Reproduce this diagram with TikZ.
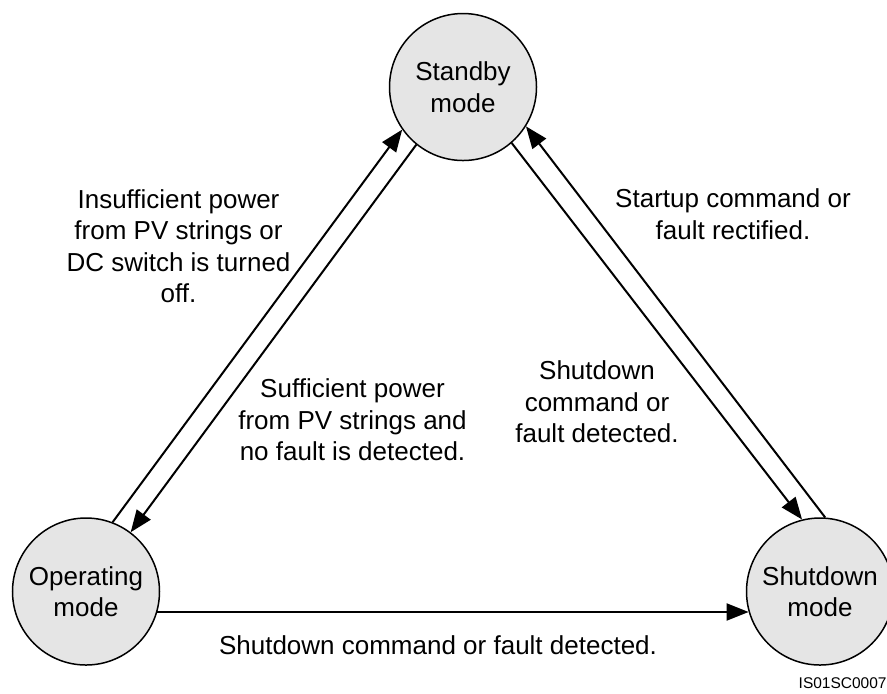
\documentclass[tikz,border=0pt]{standalone}
\usepackage{xcolor}
\usepackage{fontspec}
\setmainfont{Liberation Sans}
\usetikzlibrary{arrows.meta}

\definecolor{modegray}{RGB}{229,229,229}

\begin{document}
\begin{tikzpicture}[x=0.5pt,y=-0.5pt,
    mode/.style={circle, draw, line width=0.75pt, fill=modegray,
      minimum size=73.5pt, inner sep=0pt, align=center,
      font=\fontsize{13}{15.75}\selectfont},
    trans/.style={line width=1pt, -{Triangle[length=11pt,width=8.5pt]}},
    lbl/.style={align=center, font=\fontsize{13}{15.75}\selectfont}]
  \useasboundingbox (0,0) rectangle (887,693);

  % the three modes:
  \node[mode] (standby) at (463,87) {Standby\\mode};
  \node[mode] (operating) at (86,591.5) {Operating\\mode};
  \node[mode] (shutdown) at (820,591.5) {Shutdown\\mode};

  % transitions between them:
  \draw[trans] (operating.69.4) -- (standby.215.8);
  \draw[trans] (standby.231) -- (operating.53.6);
  \draw[trans] (standby.-49.2) -- (shutdown.104.4);
  \draw[trans] (shutdown.86.8) -- (standby.-32.5);
  \draw[trans] (operating.-16.5) -- (shutdown.196.5);

  % letterings:
  \node[lbl] (insufficient) at (178.5,246) {Insufficient power\\from PV strings or\\DC switch is turned\\off.};
  \node[lbl] (sufficient) at (352.5,420) {Sufficient power\\from PV strings and\\no fault is detected.};
  \node[lbl] (startup) at (733,214) {Startup command or\\fault rectified.};
  \node[lbl] (stopcmd) at (597,402) {Shutdown\\command or\\fault detected.};
  \node[lbl] (stopbottom) at (438,645) {Shutdown command or fault detected.};
  \node[font=\fontsize{7.75}{9}\selectfont, anchor=east, inner sep=0pt] (figid) at (887,683) {IS01SC0007};
\end{tikzpicture}
\end{document}
